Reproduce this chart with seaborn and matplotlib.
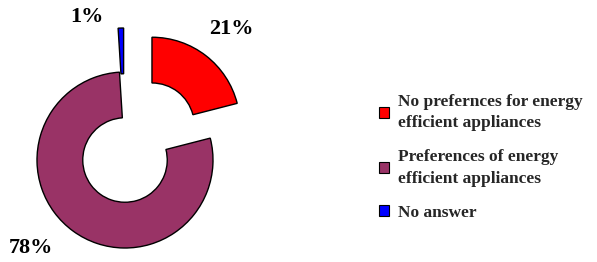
import matplotlib
matplotlib.use("Agg")
import matplotlib.pyplot as plt
import seaborn as sns
import numpy as np

# Data
categories = ["No prefernces for energy\nefficient appliances",
              "Preferences of energy\nefficient appliances",
              "No answer"]
shares = [21, 78, 1]
pct_labels = ["21%", "78%", "1%"]
colors = ["#FF0000", "#993366", "#0000FF"]
explode = [0.5, 0.0, 0.5]

sns.set_theme(style="white")
plt.rcParams['font.family'] = ['Liberation Serif', 'DejaVu Serif']
plt.rcParams['font.weight'] = 'bold'

W, H, R = 597, 262, 88.0   # px, radius in px
cx, cy = 125, 160           # pie centre in px from top-left
ax_w = 370

fig = plt.figure(figsize=(W / 100, H / 100), dpi=100)
ax = fig.add_axes([0, 0, ax_w / W, 1])

wedges, _ = ax.pie(shares, colors=colors, explode=explode, startangle=90,
                   counterclock=False, radius=1.0,
                   wedgeprops=dict(width=0.52, edgecolor="black", linewidth=1.0))

# percentage labels: angle (deg) and distance from centre
lab_pos = [(51, 1.92), (223, 1.46), (105, 1.68)]
for txt, (ang, dist) in zip(pct_labels, lab_pos):
    a = np.deg2rad(ang)
    ax.text(dist * np.cos(a), dist * np.sin(a), txt, ha="center", va="center",
            fontsize=16, fontweight="bold", color="black")

ax.set_xlim(-cx / R, (ax_w - cx) / R)
ax.set_ylim(-(H - cy) / R, cy / R)
ax.set_aspect("equal", adjustable="box")
ax.axis("off")

leg = fig.legend(wedges, categories, loc="upper left",
                 bbox_to_anchor=(370 / W, 1 - 85 / H), frameon=False,
                 prop=dict(family="Liberation Serif", weight="bold", size=12.5),
                 handlelength=0.6, handleheight=0.6, handletextpad=0.5,
                 labelspacing=1.05, borderpad=0)
for h in leg.legend_handles:
    h.set_linewidth(0.8)
for t in leg.get_texts():
    t.set_linespacing(1.45)

fig.savefig("out.png", dpi=100)
